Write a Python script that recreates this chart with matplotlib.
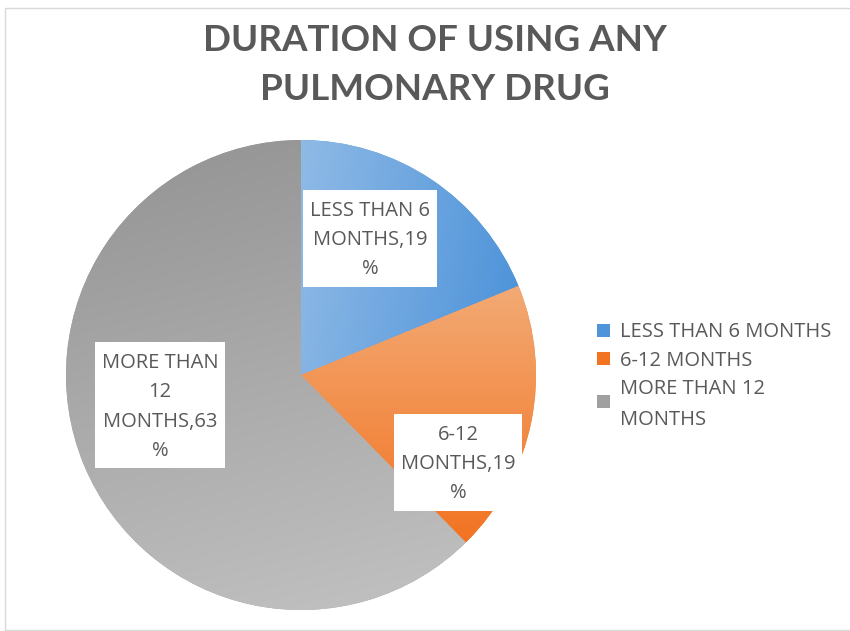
import numpy as np
import matplotlib
matplotlib.use("Agg")
import matplotlib.pyplot as plt
from matplotlib.patches import Rectangle
from matplotlib.transforms import IdentityTransform
from matplotlib.colors import to_rgb
from matplotlib.font_manager import FontProperties
from matplotlib.textpath import TextToPath

categories = ["LESS THAN 6 MONTHS", "6-12 MONTHS", "MORE THAN 12 MONTHS"]
legend_labels = ["LESS THAN 6 MONTHS", "6-12 MONTHS", "MORE THAN 12\nMONTHS"]
values = [19, 19, 63]
data_labels = ["LESS THAN 6\nMONTHS,19\n%", "6-12\nMONTHS,19\n%", "MORE THAN\n12\nMONTHS,63\n%"]
title = "DURATION OF USING ANY\nPULMONARY DRUG"

base_colors = ["#5B9BD5", "#ED7D31", "#A5A5A5"]
legend_colors = ["#4F94DA", "#F27322", "#A0A0A0"]
grads = [
    ("#8FBAE6", "#4F94DA", (1.0, -0.15)),
    ("#F3AA74", "#F27322", (0.0, -1.0)),
    ("#BFBFBF", "#979797", (-0.25, 1.0)),
]

TFONT = "Lato"
FONT = "Open Sans"
TXT = "#595959"

W, H = 850, 631
fig = plt.figure(figsize=(W / 100, H / 100), dpi=100)
fig.patch.set_facecolor("white")

fig.patches.append(Rectangle((5 / W, 1 - 630 / H), 900 / W, 622 / H, transform=fig.transFigure,
                             fill=False, edgecolor="#D9D9D9", lw=1.0))

cx, cy, r = 301, 375, 235
ax = fig.add_axes([(cx - r) / W, (H - cy - r) / H, 2 * r / W, 2 * r / H])
wedges, _ = ax.pie(values, colors=base_colors, startangle=90, counterclock=False,
                   radius=1, center=(0, 0), wedgeprops=dict(linewidth=0))
ax.set_xlim(-1, 1)
ax.set_ylim(-1, 1)
ax.set_aspect("equal")
ax.axis("off")

N = 400
xs = np.linspace(-1, 1, N)
X, Y = np.meshgrid(xs, xs)
inside = X ** 2 + Y ** 2 <= 1.0
angles = np.degrees(np.arctan2(Y, X))
for w, (c_light, c_dark, (dx, dy)) in zip(wedges, grads):
    proj = X * dx + Y * dy
    th1, th2 = w.theta1, w.theta2
    a = np.mod(angles - th1, 360)
    inw = inside & (a <= np.mod(th2 - th1, 360) + 1e-9)
    pmin, pmax = proj[inw].min(), proj[inw].max()
    t = np.clip((proj - pmin) / (pmax - pmin), 0, 1)
    c0 = np.array(to_rgb(c_light))
    c1 = np.array(to_rgb(c_dark))
    img = c0[None, None, :] + (c1 - c0)[None, None, :] * t[..., None]
    im = ax.imshow(img, extent=(-1, 1, -1, 1), origin="lower", zorder=w.get_zorder() + 0.5,
                   interpolation="bilinear")
    im.set_clip_path(w)

PT = 72 / 100
LSIZE = 14.5
prop = FontProperties(family=FONT, size=LSIZE)
t2p = TextToPath()

def text_width_px(s):
    w_pt, _, _ = t2p.get_text_width_height_descent(s, prop, ismath=False)
    return w_pt / PT

label_px = [(370, 238), (458, 462), (160, 405)]
pitch = 29.5
for (px, py), lab in zip(label_px, data_labels):
    lines = lab.split("\n")
    n = len(lines)
    xy = ((px - cx) / r, (cy - py) / r)
    for i, line in enumerate(lines):
        off = ((n - 1) / 2 - i) * pitch
        wpx = text_width_px(line)
        ax.annotate(line, xy=xy, xycoords="data", xytext=(-wpx / 2 * PT, (off - 7) * PT),
                    textcoords="offset points", ha="left", va="baseline",
                    fontsize=LSIZE, family=FONT, color=TXT, zorder=11)
    cdisp = ax.transData.transform(xy)
    wmax = max(text_width_px(l) for l in lines)
    x0 = cdisp[0] - wmax / 2 - 7
    x1 = cdisp[0] + wmax / 2 + 7
    y1 = cdisp[1] + (n - 1) / 2 * pitch + 19
    y0 = cdisp[1] - (n - 1) / 2 * pitch - 19
    ax.add_artist(Rectangle((x0, y0), x1 - x0, y1 - y0, transform=IdentityTransform(),
                            facecolor="white", edgecolor="none", zorder=10))

fig.text(0.5 * (205 + 665) / W, 1 - 65 / H, title, ha="center", va="center", fontsize=26.5,
         family=TFONT, weight="bold", color=TXT, linespacing=1.6)

lx_box, lx_txt = 597, 620
entry_top = 316
line_h = 28.5
for lab, col in zip(legend_labels, legend_colors):
    lines = lab.split("\n")
    nl = len(lines)
    ymid = entry_top + nl * line_h / 2
    fig.patches.append(Rectangle((lx_box / W, 1 - (ymid + 6.5) / H), 13 / W, 13 / H,
                                 transform=fig.transFigure, facecolor=col, edgecolor="none"))
    for j, line in enumerate(lines):
        yl = entry_top + (j + 0.5) * line_h + (j * 2 if nl > 1 else 0)
        fig.text(lx_txt / W, 1 - (yl + 7) / H, line, ha="left", va="baseline", fontsize=LSIZE,
                 family=FONT, color=TXT)
    entry_top += nl * line_h

fig.savefig("out.png", dpi=100)
